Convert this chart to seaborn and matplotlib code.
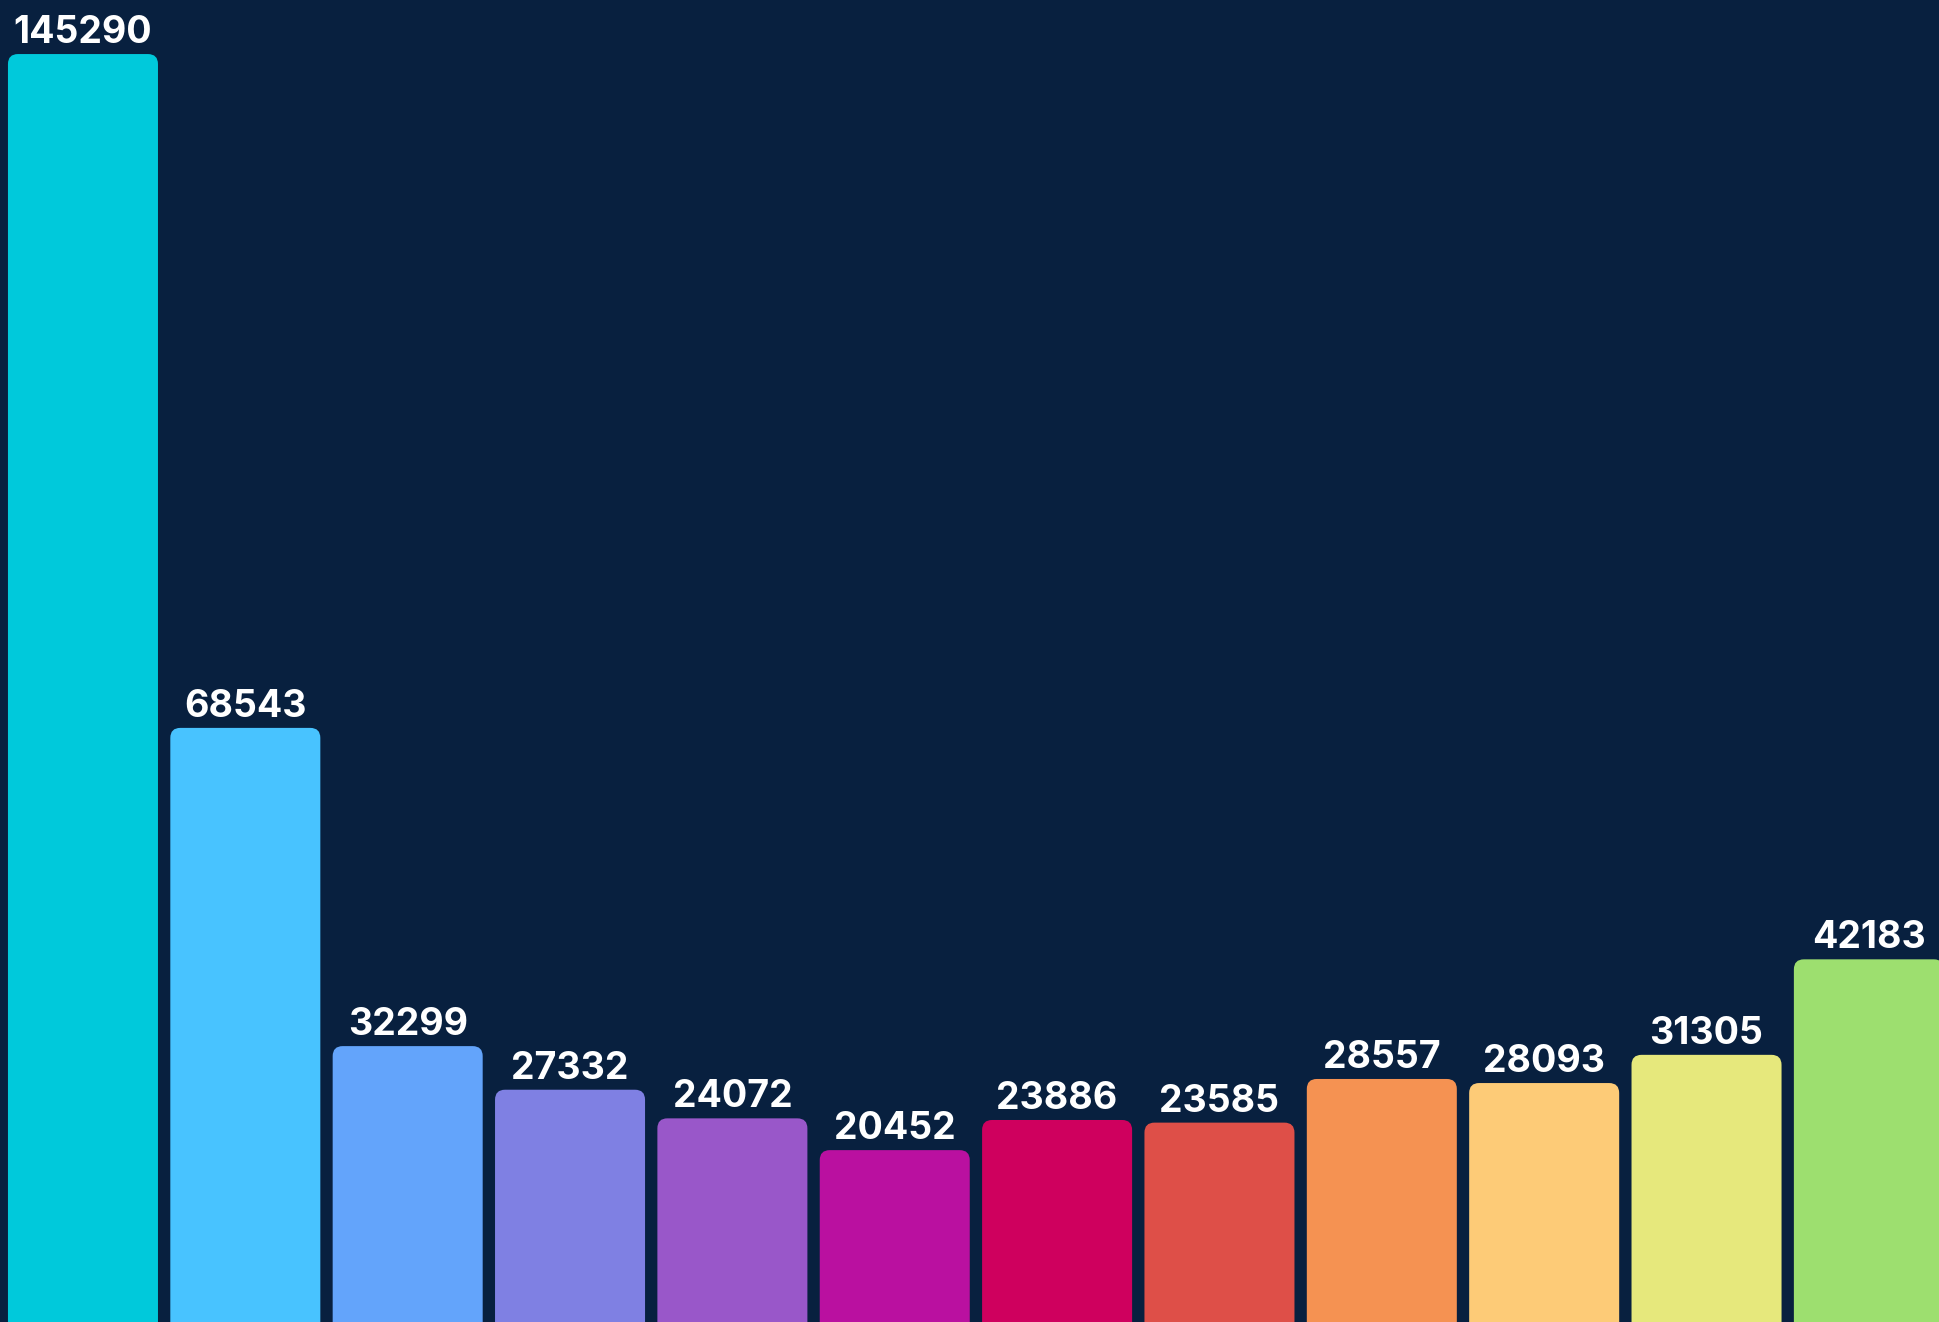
import numpy as np
import pandas as pd

import matplotlib
matplotlib.use("Agg")
import matplotlib.pyplot as plt
from matplotlib.patches import FancyBboxPatch
import seaborn as sns

# %% data
categories = ["c01", "c02", "c03", "c04", "c05", "c06",
              "c07", "c08", "c09", "c10", "c11", "c12"]
values = [145290, 68543, 32299, 27332, 24072, 20452,
          23886, 23585, 28557, 28093, 31305, 42183]
colors = ["#00C9DB", "#48C3FF", "#63A4FB", "#7F80E3", "#9957C9", "#BA10A0",
          "#CF005E", "#DE4F48", "#F59252", "#FDCB77", "#E6E87C", "#9DDF6F"]
bg = "#08203F"

df = pd.DataFrame({"category": categories, "value": values})

# %%
sns.set_style("white")
plt.rcParams["font.family"] = ["Inter", "DejaVu Sans"]

fig = plt.figure(figsize=(19.4, 13.22), dpi=100, facecolor=bg)
ax = fig.add_axes([0, 0, 1, 1])
ax.set_facecolor(bg)

sns.barplot(data=df, x="category", y="value", hue="category",
            palette=colors, saturation=1, width=0.924, legend=False, ax=ax)

ax.set_xlim(-0.511, 11.438)
ax.set_ylim(877, 151446)
ax.axis("off")

# swap the plain bars for ones with rounded tops
fig.canvas.draw()
px_x = ax.transData.transform((1, 0))[0] - ax.transData.transform((0, 0))[0]
px_y = ax.transData.transform((0, 1))[1] - ax.transData.transform((0, 0))[1]
radius = 10 / px_x
for p in list(ax.patches):
    x0, w, h = p.get_x(), p.get_width(), p.get_height()
    fc = p.get_facecolor()
    p.remove()
    ax.add_patch(FancyBboxPatch(
        (x0, -8000), w, h + 8000,
        boxstyle=f"round,pad=0,rounding_size={radius}",
        mutation_aspect=px_x / px_y,
        facecolor=fc, edgecolor="none", linewidth=0))

for i, v in enumerate(values):
    ax.annotate(str(v), (i, v), xytext=(0, 8), textcoords="offset points",
                ha="center", va="baseline", color="white",
                fontsize=27, fontweight="bold")

fig.savefig("out.png", dpi=100, facecolor=bg)
